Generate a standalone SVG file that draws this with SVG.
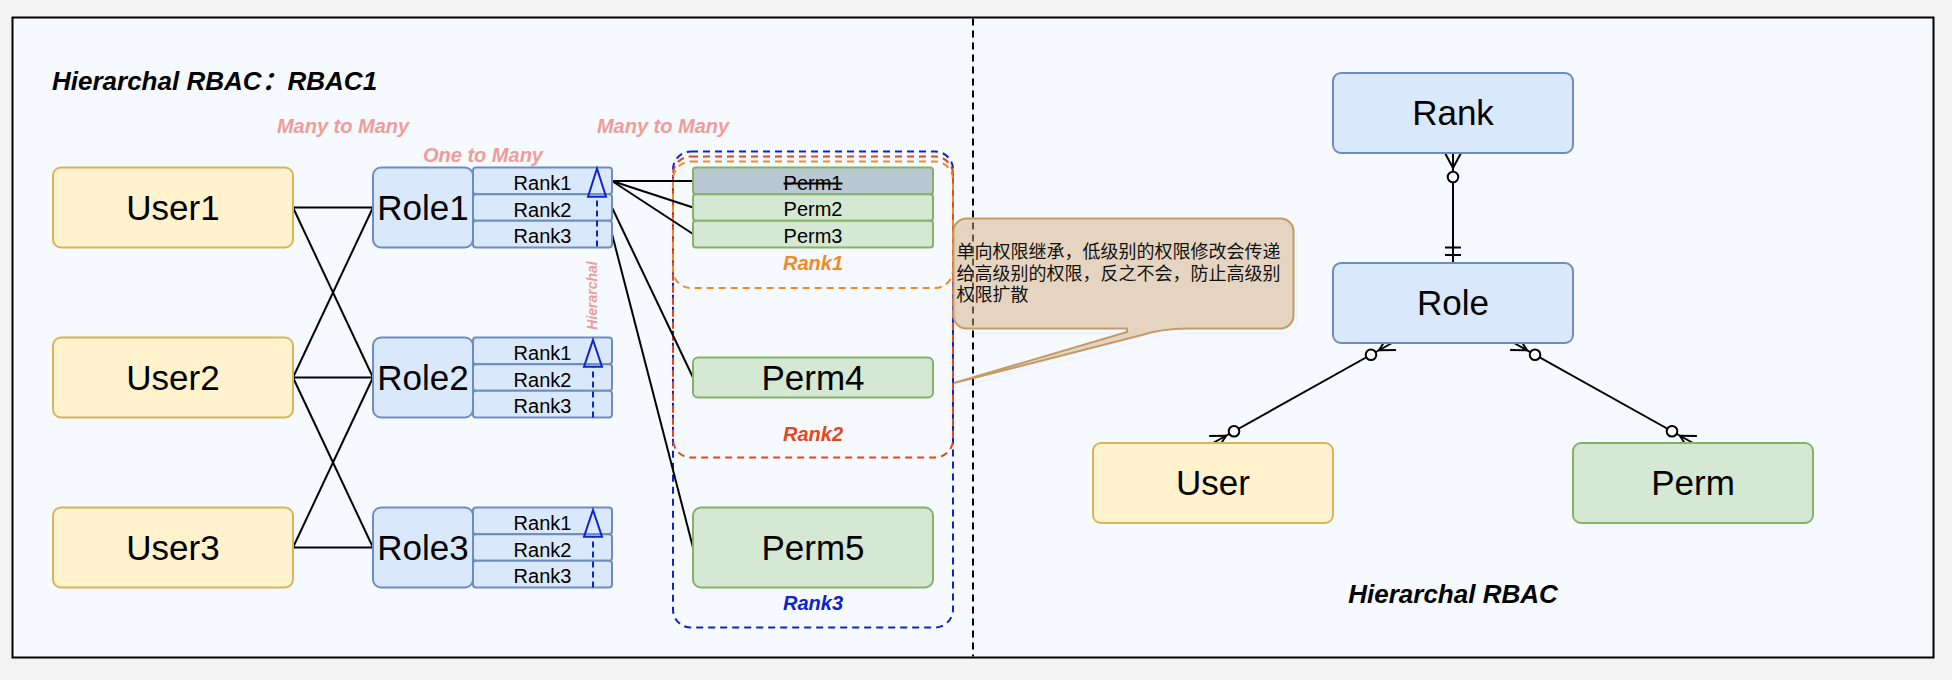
<svg xmlns="http://www.w3.org/2000/svg" width="1952" height="680" viewBox="0 0 1952 680">
<defs>
<style>
.bg{fill:#F3F3F3}
.frame{fill:#F6F9FE;stroke:#000;stroke-width:2}
.user rect{fill:#FFF2CC;stroke:#D6B656;stroke-width:2}
.role rect{fill:#DAE8FC;stroke:#6C8EBF;stroke-width:2}
.perm rect{fill:#D5E8D4;stroke:#82B366;stroke-width:2}
.big{font-family:"Liberation Sans",Arial,sans-serif;font-size:35px;fill:#000;text-anchor:middle}
.small{font-family:"Liberation Sans",Arial,sans-serif;font-size:20px;fill:#000;text-anchor:middle}
.lbl{font-family:"Liberation Sans",Arial,sans-serif;font-weight:bold;font-style:italic;font-size:20px;text-anchor:middle}
.pink{fill:#EE9D9A}
.title{font-family:"Liberation Sans","Noto Sans CJK SC",Arial,sans-serif;font-weight:bold;font-style:italic;font-size:26px;fill:#000}
.conn line{stroke:#000;stroke-width:2;fill:none}
.grp{fill:none;stroke-width:2;stroke-dasharray:7 5}
.hier line{stroke:#0B24CC;stroke-width:2;stroke-dasharray:6 4}
.hier path{stroke:#0B24CC;stroke-width:2;fill:none}
.er line{stroke:#000;stroke-width:2}
.er circle{fill:#fff;stroke:#000;stroke-width:2}
.cjk{font-family:"Noto Sans CJK SC","Liberation Sans",sans-serif;font-size:18px;fill:#111}
</style>
<path id="callout" d="M966.5,218.5 H1280.5 A13,13 0 0 1 1293.5,231.5 V315.5 A13,13 0 0 1 1280.5,328.5 H1188 Q1160,329 1142,335 L954,383 L1127,332 V328.5 H966.5 A13,13 0 0 1 953.5,315.5 V231.5 A13,13 0 0 1 966.5,218.5 Z"/>
<mask id="outside" maskUnits="userSpaceOnUse" x="0" y="0" width="1952" height="680">
<rect x="0" y="0" width="1952" height="680" fill="#fff"/>
<use href="#callout" fill="#000"/>
</mask>
</defs>

<rect class="bg" x="0" y="0" width="1952" height="680"/>
<rect class="frame" x="12.5" y="17.5" width="1921" height="640"/>
<line x1="973" y1="18.5" x2="973" y2="656.5" stroke="#000" stroke-width="2" stroke-dasharray="7 5"/>

<text class="title" x="52" y="90">Hierarchal RBAC<tspan font-family="Noto Sans CJK SC, sans-serif">：</tspan>RBAC1</text>
<text class="lbl pink" x="343" y="133">Many to Many</text>
<text class="lbl pink" x="483" y="161.5">One to Many</text>
<text class="lbl pink" x="663" y="133">Many to Many</text>

<g id="groups">
<rect class="grp" x="673" y="151.5" width="280" height="476" rx="18" stroke="#0B24CC"/>
<rect class="grp" x="673" y="156.5" width="280" height="301" rx="18" stroke="#E5461F"/>
<rect class="grp" x="673" y="161.5" width="280" height="126.5" rx="18" stroke="#EE8A2A"/>
<text class="lbl" x="813" y="270" fill="#EE8A2A">Rank1</text>
<text class="lbl" x="813" y="440.5" fill="#E5461F">Rank2</text>
<text class="lbl" x="813" y="610" fill="#0B24CC">Rank3</text>
</g>

<g id="connectors" class="conn">
<line x1="293" y1="207.5" x2="373" y2="207.5"/>
<line x1="293" y1="207.5" x2="373" y2="377.5"/>
<line x1="293" y1="377.5" x2="373" y2="207.5"/>
<line x1="293" y1="377.5" x2="373" y2="377.5"/>
<line x1="293" y1="377.5" x2="373" y2="547.5"/>
<line x1="293" y1="547.5" x2="373" y2="377.5"/>
<line x1="293" y1="547.5" x2="373" y2="547.5"/>
<line x1="612" y1="181" x2="693" y2="181"/>
<line x1="612" y1="181" x2="693" y2="207.5"/>
<line x1="612" y1="181" x2="693" y2="234"/>
<line x1="612" y1="207.5" x2="693" y2="377.5"/>
<line x1="612" y1="234" x2="693" y2="547.5"/>
</g>

<g id="user1" class="user"><rect x="53" y="167.5" width="240" height="80" rx="8"/><text class="big" x="173" y="219.5">User1</text></g>
<g id="user2" class="user"><rect x="53" y="337.5" width="240" height="80" rx="8"/><text class="big" x="173" y="389.5">User2</text></g>
<g id="user3" class="user"><rect x="53" y="507.5" width="240" height="80" rx="8"/><text class="big" x="173" y="559.5">User3</text></g>

<g id="role1" class="role">
<rect x="373" y="167.5" width="100" height="80" rx="8"/><text class="big" x="423" y="219.5">Role1</text>
<rect x="473" y="167.5" width="139" height="26.67" rx="3"/><text class="small" x="542.5" y="190">Rank1</text>
<rect x="473" y="194.17" width="139" height="26.67" rx="3"/><text class="small" x="542.5" y="216.7">Rank2</text>
<rect x="473" y="220.83" width="139" height="26.67" rx="3"/><text class="small" x="542.5" y="243.3">Rank3</text>
</g>
<g id="role2" class="role">
<rect x="373" y="337.5" width="100" height="80" rx="8"/><text class="big" x="423" y="389.5">Role2</text>
<rect x="473" y="337.5" width="139" height="26.67" rx="3"/><text class="small" x="542.5" y="360">Rank1</text>
<rect x="473" y="364.17" width="139" height="26.67" rx="3"/><text class="small" x="542.5" y="386.7">Rank2</text>
<rect x="473" y="390.83" width="139" height="26.67" rx="3"/><text class="small" x="542.5" y="413.3">Rank3</text>
</g>
<g id="role3" class="role">
<rect x="373" y="507.5" width="100" height="80" rx="8"/><text class="big" x="423" y="559.5">Role3</text>
<rect x="473" y="507.5" width="139" height="26.67" rx="3"/><text class="small" x="542.5" y="530">Rank1</text>
<rect x="473" y="534.17" width="139" height="26.67" rx="3"/><text class="small" x="542.5" y="556.7">Rank2</text>
<rect x="473" y="560.83" width="139" height="26.67" rx="3"/><text class="small" x="542.5" y="583.3">Rank3</text>
</g>

<g id="hierarchy" class="hier">
<line x1="597" y1="246.5" x2="597" y2="196.7"/><path d="M597,168.5 L606,196.7 L588,196.7 Z"/>
<line x1="593" y1="417.5" x2="593" y2="366.7"/><path d="M593,340 L602,366.7 L584,366.7 Z"/>
<line x1="593" y1="587.5" x2="593" y2="536.7"/><path d="M593,510 L602,536.7 L584,536.7 Z"/>
<text class="lbl pink" style="font-size:14px" transform="translate(597,295.5) rotate(-90)">Hierarchal</text>
</g>

<g id="perm1" class="perm"><rect x="693" y="167.5" width="240" height="26.67" rx="3" style="fill:#BAC8D3"/><text class="small" x="813" y="189.5" text-decoration="line-through">Perm1</text></g>
<g id="perm2" class="perm"><rect x="693" y="194.17" width="240" height="26.67" rx="3"/><text class="small" x="813" y="216.2">Perm2</text></g>
<g id="perm3" class="perm"><rect x="693" y="220.83" width="240" height="26.67" rx="3"/><text class="small" x="813" y="242.8">Perm3</text></g>
<g id="perm4" class="perm"><rect x="693" y="357.5" width="240" height="40" rx="5"/><text class="big" x="813" y="389.5">Perm4</text></g>
<g id="perm5" class="perm"><rect x="693" y="507.5" width="240" height="80" rx="8"/><text class="big" x="813" y="559.5">Perm5</text></g>

<g id="note">
<use href="#callout" transform="translate(3,5)" fill="#000" fill-opacity="0.18" mask="url(#outside)"/>
<use href="#callout" fill="#D4B07F" fill-opacity="0.5" stroke="#C49B68" stroke-width="2"/>
<text class="cjk" x="956.5" y="258">单向权限继承，低级别的权限修改会传递</text>
<text class="cjk" x="956.5" y="279.5">给高级别的权限，反之不会，防止高级别</text>
<text class="cjk" x="956.5" y="301">权限扩散</text>
</g>

<g id="er-connectors" class="er">
<line x1="1453" y1="153" x2="1453" y2="263"/>
<line x1="1453" y1="168" x2="1445" y2="153"/><line x1="1453" y1="168" x2="1461" y2="153"/>
<circle cx="1453" cy="177" r="5.3"/>
<line x1="1445" y1="247.5" x2="1461" y2="247.5"/><line x1="1445" y1="255" x2="1461" y2="255"/>

<line x1="1213" y1="443" x2="1392" y2="343"/>
<line x1="1226.1" y1="435.7" x2="1216.9" y2="450"/><line x1="1226.1" y1="435.7" x2="1209.1" y2="436"/>
<circle cx="1234" cy="431.3" r="5.3"/>
<line x1="1378.9" y1="350.3" x2="1395.9" y2="350"/><line x1="1378.9" y1="350.3" x2="1388.1" y2="336"/>
<circle cx="1371" cy="354.7" r="5.3"/>

<line x1="1693" y1="443" x2="1514" y2="343"/>
<line x1="1679.9" y1="435.7" x2="1689.1" y2="450"/><line x1="1679.9" y1="435.7" x2="1696.9" y2="436"/>
<circle cx="1672" cy="431.3" r="5.3"/>
<line x1="1527.1" y1="350.3" x2="1510.1" y2="350"/><line x1="1527.1" y1="350.3" x2="1517.9" y2="336"/>
<circle cx="1535" cy="354.7" r="5.3"/>
</g>

<g id="rank" class="role"><rect x="1333" y="73" width="240" height="80" rx="8"/><text class="big" x="1453" y="125">Rank</text></g>
<g id="role" class="role"><rect x="1333" y="263" width="240" height="80" rx="8"/><text class="big" x="1453" y="315">Role</text></g>
<g id="user" class="user"><rect x="1093" y="443" width="240" height="80" rx="8"/><text class="big" x="1213" y="495">User</text></g>
<g id="perm" class="perm"><rect x="1573" y="443" width="240" height="80" rx="8"/><text class="big" x="1693" y="495">Perm</text></g>

<text class="title" x="1453" y="603" text-anchor="middle">Hierarchal RBAC</text>
</svg>
